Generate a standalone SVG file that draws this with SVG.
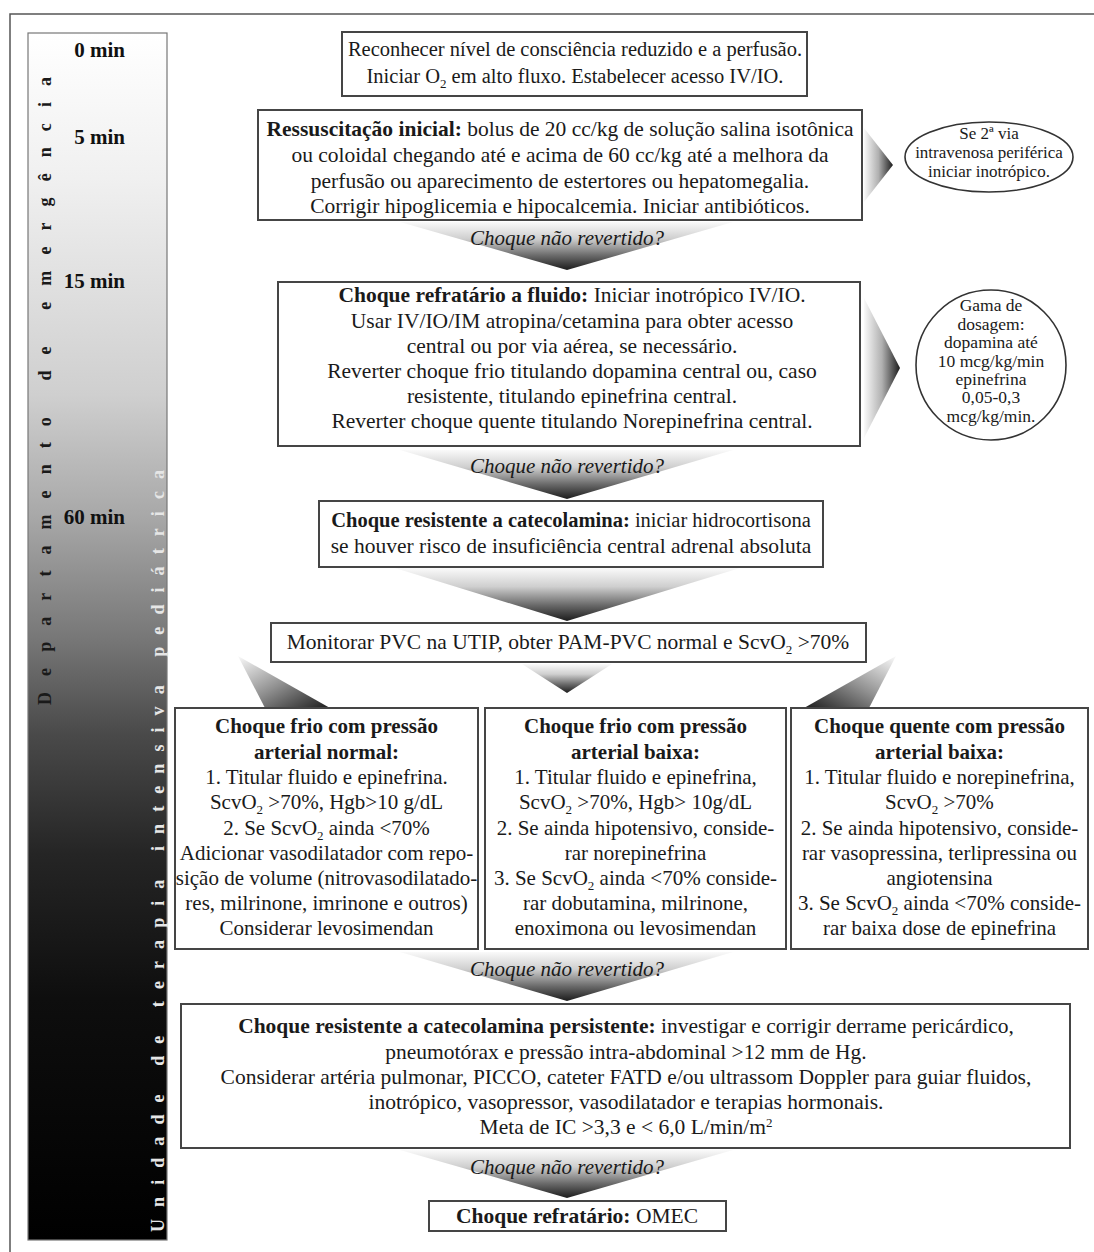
<svg xmlns="http://www.w3.org/2000/svg" width="1094" height="1252" viewBox="0 0 1094 1252">
<style>
.t{font-family:"Liberation Serif","Times New Roman",serif;font-size:21.5px;fill:#1a1a1a;text-anchor:middle}
.s1{font-size:20.5px}
.col{font-size:21px}
.c{font-size:17px}
.g{font-size:17.5px}
.b{font-weight:bold}
.i{font-style:italic;font-size:21px}
.box{fill:#fff;stroke:#454545;stroke-width:2}
.oval{fill:#fff;stroke:#333;stroke-width:1.6}
.tm{font-family:"Liberation Serif","Times New Roman",serif;font-size:21px;font-weight:bold;fill:#111;text-anchor:end}
.vt{font-family:"Liberation Serif","Times New Roman",serif;font-size:18px;font-weight:bold}
</style>
<defs>
<linearGradient id="bar" x1="0" y1="0" x2="0" y2="1">
<stop offset="0" stop-color="#ffffff"/>
<stop offset="0.12" stop-color="#f0f0f0"/>
<stop offset="0.3" stop-color="#cfcfcf"/>
<stop offset="0.4" stop-color="#a8a8a8"/>
<stop offset="0.5" stop-color="#787878"/>
<stop offset="0.58" stop-color="#4a4a4a"/>
<stop offset="0.68" stop-color="#252525"/>
<stop offset="0.8" stop-color="#0e0e0e"/>
<stop offset="1" stop-color="#000"/>
</linearGradient>
<linearGradient id="fun" x1="0" y1="0" x2="0" y2="1">
<stop offset="0" stop-color="#fafafa"/>
<stop offset="0.35" stop-color="#cfcfcf"/>
<stop offset="0.7" stop-color="#6a6a6a"/>
<stop offset="1" stop-color="#1c1c1c"/>
</linearGradient>
<linearGradient id="hr" x1="0" y1="0" x2="1" y2="0">
<stop offset="0" stop-color="#fafafa"/>
<stop offset="0.5" stop-color="#b0b0b0"/>
<stop offset="1" stop-color="#1c1c1c"/>
</linearGradient>
<linearGradient id="dl" x1="0" y1="0" x2="1" y2="1">
<stop offset="0" stop-color="#fafafa"/>
<stop offset="0.5" stop-color="#909090"/>
<stop offset="1" stop-color="#1c1c1c"/>
</linearGradient>
<linearGradient id="dr" x1="1" y1="0" x2="0" y2="1">
<stop offset="0" stop-color="#fafafa"/>
<stop offset="0.5" stop-color="#909090"/>
<stop offset="1" stop-color="#1c1c1c"/>
</linearGradient>
</defs>
<rect width="1094" height="1252" fill="#fff"/>
<rect x="10" y="14" width="1100" height="1260" fill="none" stroke="#555" stroke-width="1.5"/>

<g id="timeline">
<rect x="28" y="33" width="139" height="1207" fill="url(#bar)" stroke="#777" stroke-width="1.2"/>
<text class="tm" x="125" y="57">0 min</text>
<text class="tm" x="125" y="144">5 min</text>
<text class="tm" x="125" y="288">15 min</text>
<text class="tm" x="125" y="524">60 min</text>
<text class="vt" fill="#1a1a1a" transform="translate(51,705) rotate(-90)" textLength="628" lengthAdjust="spacing">Departamento de emergência</text>
<text class="vt" fill="#e6e6e6" transform="translate(164,1232) rotate(-90)" textLength="762" lengthAdjust="spacing">Unidade de terapia intensiva pediátrica</text>
</g>

<g id="connectors">
<polygon points="400,222 733,222 567,270" fill="url(#fun)"/>
<polygon points="864,128 893,165 864,202" fill="url(#hr)"/>
<polygon points="864,298 900,368 864,438" fill="url(#hr)"/>
<polygon points="400,450 733,450 567,499" fill="url(#fun)"/>
<polygon points="395,568 740,568 567,621" fill="url(#fun)"/>
<polygon points="522,664 612,664 567,693" fill="url(#fun)"/>
<polygon points="238,656 265,708 330,708" fill="url(#dl)"/>
<polygon points="896,656 869,708 804,708" fill="url(#dr)"/>
<polygon points="400,952 733,952 567,1001" fill="url(#fun)"/>
<polygon points="400,1150 733,1150 567,1198" fill="url(#fun)"/>
<text class="t i" x="567" y="245">Choque não revertido?</text>
<text class="t i" x="567" y="473">Choque não revertido?</text>
<text class="t i" x="567" y="976">Choque não revertido?</text>
<text class="t i" x="567" y="1174">Choque não revertido?</text>
</g>

<g id="n1">
<rect class="box" x="342" y="32" width="465" height="64"/>
<text class="t s1" x="575" y="56">Reconhecer nível de consciência reduzido e a perfusão.</text>
<text class="t s1" x="575" y="83">Iniciar O<tspan font-size="13" dy="5">2</tspan><tspan dy="-5"> em alto fluxo. Estabelecer acesso IV/IO.</tspan></text>
</g>

<g id="n2">
<rect class="box" x="258" y="110" width="604" height="110"/>
<text class="t" x="560" y="136"><tspan class="b">Ressuscitação inicial:</tspan> bolus de 20 cc/kg de solução salina isotônica</text>
<text class="t" x="560" y="162">ou coloidal chegando até e acima de 60 cc/kg até a melhora da</text>
<text class="t" x="560" y="188">perfusão ou aparecimento de estertores ou hepatomegalia.</text>
<text class="t" x="560" y="213">Corrigir hipoglicemia e hipocalcemia. Iniciar antibióticos.</text>
</g>

<g id="n2b">
<ellipse class="oval" cx="989" cy="157" rx="84" ry="35"/>
<text class="t c" x="989" y="139">Se 2ª via</text>
<text class="t c" x="989" y="158">intravenosa periférica</text>
<text class="t c" x="989" y="177">iniciar inotrópico.</text>
</g>

<g id="n3">
<rect class="box" x="278" y="282" width="582" height="164"/>
<text class="t" x="572" y="302"><tspan class="b">Choque refratário a fluido:</tspan> Iniciar inotrópico IV/IO.</text>
<text class="t" x="572" y="328">Usar IV/IO/IM atropina/cetamina para obter acesso</text>
<text class="t" x="572" y="353">central ou por via aérea, se necessário.</text>
<text class="t" x="572" y="378">Reverter choque frio titulando dopamina central ou, caso</text>
<text class="t" x="572" y="403">resistente, titulando epinefrina central.</text>
<text class="t" x="572" y="428">Reverter choque quente titulando Norepinefrina central.</text>
</g>

<g id="n3b">
<ellipse class="oval" cx="991" cy="365" rx="75" ry="75"/>
<text class="t g" x="991" y="311">Gama de</text>
<text class="t g" x="991" y="330">dosagem:</text>
<text class="t g" x="991" y="348">dopamina até</text>
<text class="t g" x="991" y="367">10 mcg/kg/min</text>
<text class="t g" x="991" y="385">epinefrina</text>
<text class="t g" x="991" y="403">0,05-0,3</text>
<text class="t g" x="991" y="422">mcg/kg/min.</text>
</g>

<g id="n4">
<rect class="box" x="319" y="501" width="504" height="66"/>
<text class="t s1" x="571" y="527"><tspan class="b">Choque resistente a catecolamina:</tspan> iniciar hidrocortisona</text>
<text class="t" x="571" y="553">se houver risco de insuficiência central adrenal absoluta</text>
</g>

<g id="n5">
<rect class="box" x="271" y="623" width="595" height="39"/>
<text class="t" x="568" y="649">Monitorar PVC na UTIP, obter PAM-PVC normal e ScvO<tspan font-size="13" dy="5">2</tspan><tspan dy="-5"> &gt;70%</tspan></text>
</g>

<g id="n6">
<rect class="box" x="175" y="708" width="303" height="241"/>
<text class="t col b" x="326.5" y="733">Choque frio com pressão</text>
<text class="t col b" x="326.5" y="759">arterial normal:</text>
<text class="t col" x="326.5" y="784">1. Titular fluido e epinefrina.</text>
<text class="t col" x="326.5" y="809">ScvO<tspan font-size="13" dy="5">2</tspan><tspan dy="-5"> &gt;70%, Hgb&gt;10 g/dL</tspan></text>
<text class="t col" x="326.5" y="835">2. Se ScvO<tspan font-size="13" dy="5">2</tspan><tspan dy="-5"> ainda &lt;70%</tspan></text>
<text class="t col" x="326.5" y="860">Adicionar vasodilatador com repo-</text>
<text class="t col" x="326.5" y="885">sição de volume (nitrovasodilatado-</text>
<text class="t col" x="326.5" y="910">res, milrinone, imrinone e outros)</text>
<text class="t col" x="326.5" y="935">Considerar levosimendan</text>
</g>

<g id="n7">
<rect class="box" x="485" y="708" width="301" height="241"/>
<text class="t col b" x="635.5" y="733">Choque frio com pressão</text>
<text class="t col b" x="635.5" y="759">arterial baixa:</text>
<text class="t col" x="635.5" y="784">1. Titular fluido e epinefrina,</text>
<text class="t col" x="635.5" y="809">ScvO<tspan font-size="13" dy="5">2</tspan><tspan dy="-5"> &gt;70%, Hgb&gt; 10g/dL</tspan></text>
<text class="t col" x="635.5" y="835">2. Se ainda hipotensivo, conside-</text>
<text class="t col" x="635.5" y="860">rar norepinefrina</text>
<text class="t col" x="635.5" y="885">3. Se ScvO<tspan font-size="13" dy="5">2</tspan><tspan dy="-5"> ainda &lt;70% conside-</tspan></text>
<text class="t col" x="635.5" y="910">rar dobutamina, milrinone,</text>
<text class="t col" x="635.5" y="935">enoximona ou levosimendan</text>
</g>

<g id="n8">
<rect class="box" x="791" y="708" width="297" height="241"/>
<text class="t col b" x="939.5" y="733">Choque quente com pressão</text>
<text class="t col b" x="939.5" y="759">arterial baixa:</text>
<text class="t col" x="939.5" y="784">1. Titular fluido e norepinefrina,</text>
<text class="t col" x="939.5" y="809">ScvO<tspan font-size="13" dy="5">2</tspan><tspan dy="-5"> &gt;70%</tspan></text>
<text class="t col" x="939.5" y="835">2. Se ainda hipotensivo, conside-</text>
<text class="t col" x="939.5" y="860">rar vasopressina, terlipressina ou</text>
<text class="t col" x="939.5" y="885">angiotensina</text>
<text class="t col" x="939.5" y="910">3. Se ScvO<tspan font-size="13" dy="5">2</tspan><tspan dy="-5"> ainda &lt;70% conside-</tspan></text>
<text class="t col" x="939.5" y="935">rar baixa dose de epinefrina</text>
</g>

<g id="n9">
<rect class="box" x="181" y="1004" width="889" height="144"/>
<text class="t" x="626" y="1033"><tspan class="b">Choque resistente a catecolamina persistente:</tspan> investigar e corrigir derrame pericárdico,</text>
<text class="t" x="626" y="1059">pneumotórax e pressão intra-abdominal &gt;12 mm de Hg.</text>
<text class="t" x="626" y="1084">Considerar artéria pulmonar, PICCO, cateter FATD e/ou ultrassom Doppler para guiar fluidos,</text>
<text class="t" x="626" y="1109">inotrópico, vasopressor, vasodilatador e terapias hormonais.</text>
<text class="t" x="626" y="1134">Meta de IC &gt;3,3 e &lt; 6,0 L/min/m<tspan font-size="13" dy="-7">2</tspan></text>
</g>

<g id="n10">
<rect class="box" x="429" y="1201" width="297" height="30"/>
<text class="t" x="577" y="1223"><tspan class="b">Choque refratário:</tspan> OMEC</text>
</g>
</svg>
